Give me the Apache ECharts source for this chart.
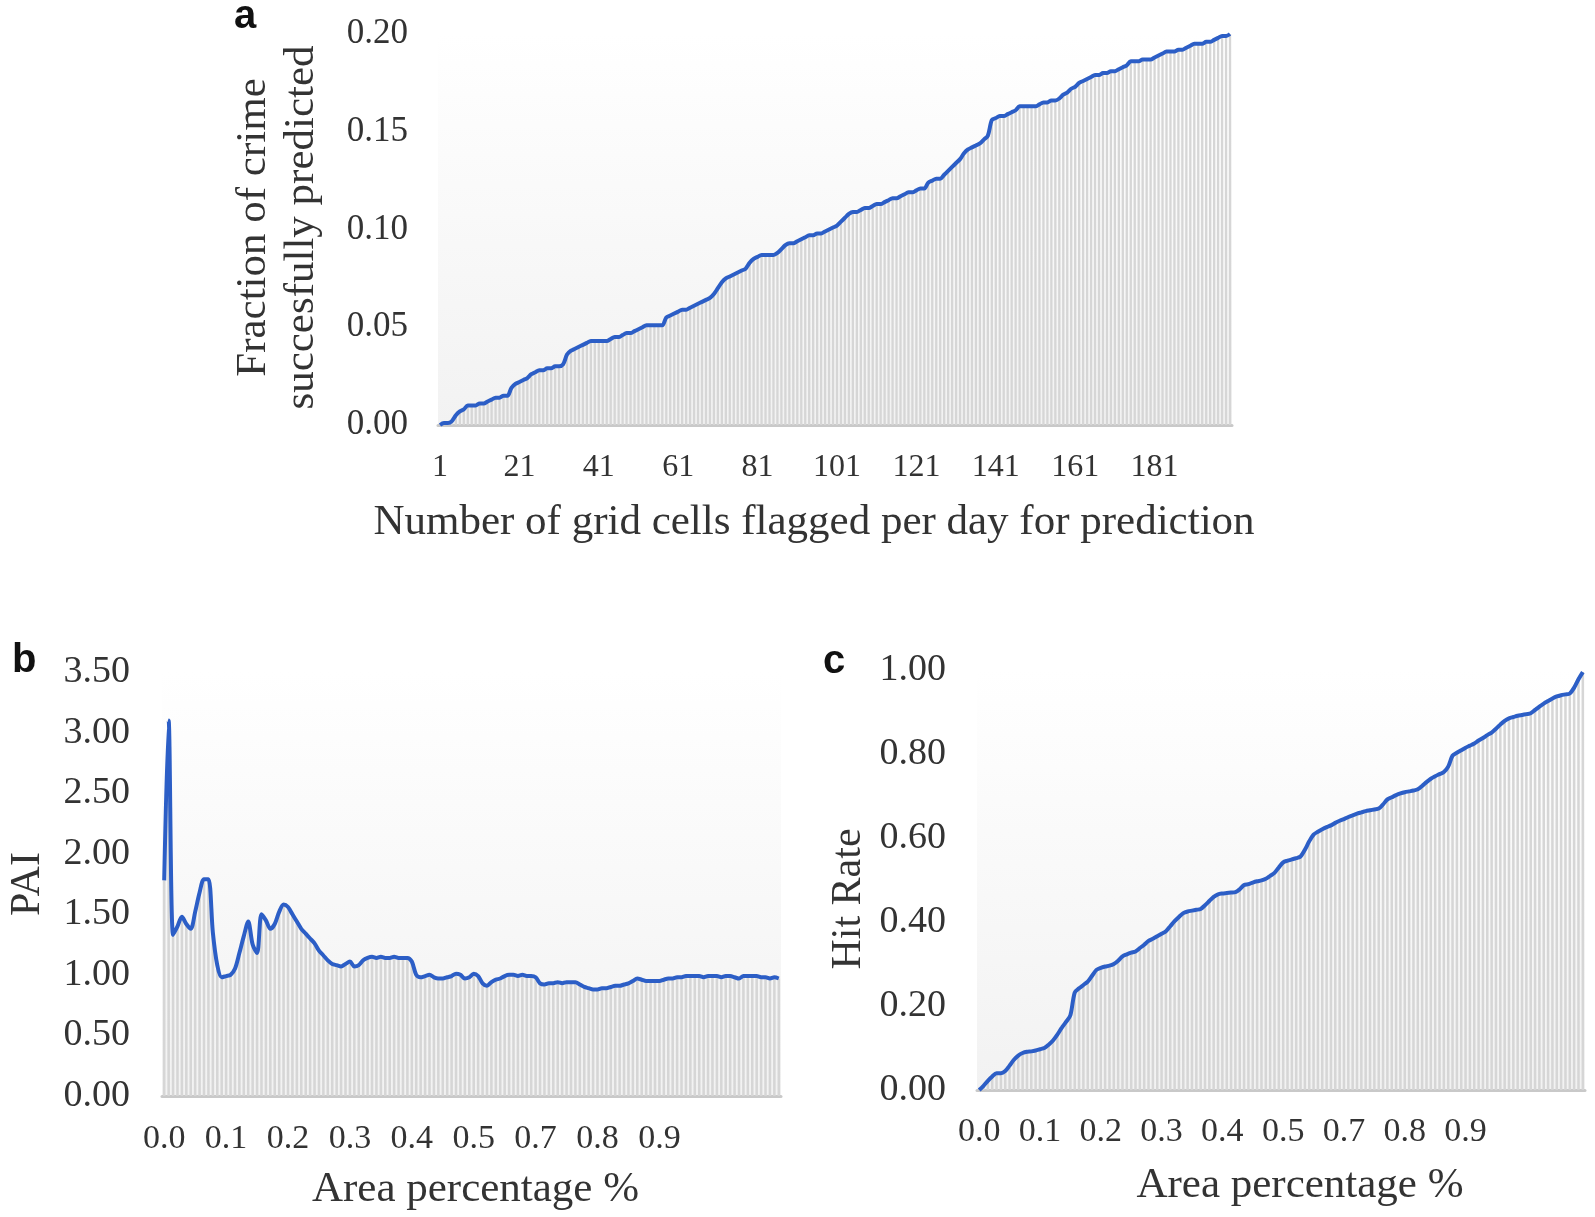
<!DOCTYPE html>
<html>
<head>
<meta charset="utf-8">
<script src="https://cdn.jsdelivr.net/npm/echarts@6/dist/echarts.min.js"></script>
<style>
html,body{margin:0;padding:0;background:#fff;}
#chart{width:1595px;height:1217px;}
</style>
</head>
<body>
<div id="chart"></div>
<script>
// ---- Panel a: fraction of crime successfully predicted vs number of flagged cells (1..200)
const cellsA = Array.from({length: 200}, (_, i) => String(i + 1));
const fractionA = [
  0.000, 0.001, 0.001, 0.002, 0.005, 0.007, 0.008, 0.010, 0.010, 0.010,
  0.011, 0.011, 0.012, 0.013, 0.014, 0.014, 0.015, 0.015, 0.019, 0.021,
  0.022, 0.023, 0.024, 0.026, 0.027, 0.028, 0.028, 0.029, 0.029, 0.030,
  0.030, 0.031, 0.036, 0.038, 0.039, 0.040, 0.041, 0.042, 0.043, 0.043,
  0.043, 0.043, 0.043, 0.044, 0.045, 0.045, 0.046, 0.047, 0.047, 0.048,
  0.049, 0.050, 0.051, 0.051, 0.051, 0.051, 0.051, 0.055, 0.056, 0.057,
  0.058, 0.059, 0.059, 0.060, 0.061, 0.062, 0.063, 0.064, 0.065, 0.067,
  0.070, 0.073, 0.075, 0.076, 0.077, 0.078, 0.079, 0.080, 0.083, 0.085,
  0.086, 0.087, 0.087, 0.087, 0.087, 0.088, 0.090, 0.092, 0.093, 0.093,
  0.094, 0.095, 0.096, 0.097, 0.097, 0.098, 0.098, 0.099, 0.100, 0.101,
  0.102, 0.104, 0.106, 0.108, 0.109, 0.109, 0.110, 0.111, 0.111, 0.112,
  0.113, 0.113, 0.114, 0.115, 0.116, 0.116, 0.117, 0.118, 0.119, 0.119,
  0.120, 0.121, 0.121, 0.124, 0.125, 0.126, 0.126, 0.128, 0.130, 0.132,
  0.134, 0.136, 0.139, 0.141, 0.142, 0.143, 0.144, 0.146, 0.148, 0.156,
  0.157, 0.158, 0.158, 0.159, 0.160, 0.161, 0.163, 0.163, 0.163, 0.163,
  0.163, 0.164, 0.165, 0.165, 0.166, 0.166, 0.167, 0.169, 0.170, 0.172,
  0.173, 0.175, 0.176, 0.177, 0.178, 0.179, 0.179, 0.180, 0.180, 0.181,
  0.181, 0.182, 0.183, 0.184, 0.186, 0.186, 0.186, 0.187, 0.187, 0.187,
  0.188, 0.189, 0.190, 0.191, 0.191, 0.191, 0.192, 0.192, 0.193, 0.194,
  0.195, 0.195, 0.195, 0.196, 0.196, 0.197, 0.198, 0.199, 0.199, 0.200
];
const ticksA = [0, 0.05, 0.10, 0.15, 0.20];

// ---- Panels b and c: shared area-percentage categories (140 cells)
const areaTickLabels = ['0.0', '0.1', '0.2', '0.3', '0.4', '0.5', '0.7', '0.8', '0.9'];
const areaCount = 140;
const areaCats = Array.from({length: areaCount}, (_, i) => String(i));

const paiB = [
  1.78, 3.10, 1.33, 1.40, 1.48, 1.42, 1.38, 1.52, 1.68, 1.79,
  1.79, 1.35, 1.08, 0.98, 0.99, 1.00, 1.05, 1.18, 1.32, 1.44,
  1.25, 1.18, 1.50, 1.45, 1.38, 1.42, 1.52, 1.58, 1.56, 1.50,
  1.44, 1.38, 1.34, 1.30, 1.26, 1.20, 1.16, 1.12, 1.09, 1.08,
  1.07, 1.09, 1.11, 1.07, 1.08, 1.12, 1.14, 1.15, 1.14, 1.15,
  1.14, 1.14, 1.15, 1.14, 1.14, 1.14, 1.11, 1.00, 0.98, 0.99,
  1.00, 0.98, 0.97, 0.97, 0.98, 0.99, 1.01, 1.00, 0.97, 0.98,
  1.01, 0.99, 0.93, 0.91, 0.94, 0.96, 0.97, 0.99, 1.00, 1.00,
  0.99, 1.00, 0.99, 0.99, 0.98, 0.93, 0.92, 0.93, 0.93, 0.94,
  0.93, 0.94, 0.94, 0.94, 0.92, 0.90, 0.89, 0.88, 0.88, 0.89,
  0.89, 0.90, 0.91, 0.91, 0.92, 0.93, 0.95, 0.97, 0.96, 0.95,
  0.95, 0.95, 0.95, 0.96, 0.97, 0.97, 0.98, 0.98, 0.99, 0.99,
  0.99, 0.99, 0.98, 0.99, 0.99, 0.99, 0.98, 0.99, 0.99, 0.98,
  0.97, 0.99, 0.99, 0.99, 0.99, 0.98, 0.98, 0.97, 0.98, 0.97
];
const ticksB = [0, 0.5, 1.0, 1.5, 2.0, 2.5, 3.0, 3.5];

const hitRateC = [
  0.000, 0.010, 0.022, 0.032, 0.040, 0.040, 0.045, 0.058, 0.072, 0.082,
  0.088, 0.091, 0.092, 0.094, 0.097, 0.100, 0.108, 0.118, 0.132, 0.148,
  0.162, 0.178, 0.232, 0.242, 0.250, 0.258, 0.272, 0.286, 0.291, 0.294,
  0.296, 0.300, 0.308, 0.318, 0.323, 0.327, 0.330, 0.338, 0.346, 0.355,
  0.360, 0.366, 0.372, 0.378, 0.390, 0.402, 0.412, 0.421, 0.425, 0.427,
  0.429, 0.431, 0.440, 0.450, 0.460, 0.466, 0.468, 0.469, 0.470, 0.471,
  0.478, 0.488, 0.490, 0.494, 0.497, 0.499, 0.503, 0.510, 0.517, 0.530,
  0.542, 0.546, 0.549, 0.552, 0.556, 0.572, 0.592, 0.608, 0.615, 0.621,
  0.626, 0.630, 0.636, 0.641, 0.645, 0.650, 0.654, 0.658, 0.661, 0.664,
  0.666, 0.668, 0.670, 0.680, 0.692, 0.697, 0.702, 0.706, 0.709, 0.711,
  0.713, 0.716, 0.724, 0.733, 0.741, 0.747, 0.752, 0.757, 0.770, 0.796,
  0.803, 0.809, 0.815, 0.820, 0.825, 0.832, 0.838, 0.845, 0.851, 0.860,
  0.870, 0.879, 0.885, 0.888, 0.891, 0.893, 0.895, 0.897, 0.905, 0.913,
  0.920, 0.926, 0.932, 0.937, 0.940, 0.942, 0.944, 0.958, 0.978, 0.995
];
const ticksC = [0, 0.2, 0.4, 0.6, 0.8, 1.0];

// ---- styling
const SERIF = '"Liberation Serif", "Times New Roman", serif';
const SANS = '"Liberation Sans", Arial, sans-serif';
const TXT = '#333333';
const LINE = '#2c5ec6';
const BAR = '#d6d6d6';

const chart = echarts.init(document.getElementById('chart'), null, {renderer: 'canvas'});

function wallGradient() {
  return new echarts.graphic.LinearGradient(0, 0, 0, 1, [
    {offset: 0, color: '#ffffff'},
    {offset: 1, color: '#f2f2f2'}
  ]);
}

function xAxisCfg(gridIndex, data, labelInterval, formatter, fontSize, margin, name, nameGap, namePad) {
  return {
    type: 'category', gridIndex: gridIndex, data: data,
    boundaryGap: true,
    axisLine: {show: true, lineStyle: {color: '#c9c9c9', width: 3}},
    axisTick: {show: false},
    splitLine: {show: false},
    axisLabel: {
      interval: labelInterval, margin: margin,
      fontFamily: SERIF, fontSize: fontSize, color: TXT,
      formatter: formatter
    },
    name: name, nameLocation: 'middle', nameGap: nameGap,
    nameTextStyle: {fontFamily: SERIF, fontSize: 43, color: TXT, padding: namePad}
  };
}

function yAxisCfg(gridIndex, ticks, fontSize, margin, name, nameFont, nameGap, namePad, lineHeight) {
  const step = ticks[1] - ticks[0];
  return {
    type: 'value', gridIndex: gridIndex,
    min: ticks[0], max: ticks[ticks.length - 1], interval: step,
    axisLine: {show: false}, axisTick: {show: false},
    splitLine: {show: false},
    axisLabel: {
      margin: margin, fontFamily: SERIF, fontSize: fontSize, color: TXT,
      formatter: v => v.toFixed(2)
    },
    name: name, nameLocation: 'middle', nameGap: nameGap, nameRotate: 90,
    nameTextStyle: {fontFamily: SERIF, fontSize: nameFont, color: TXT, padding: namePad, lineHeight: lineHeight}
  };
}

function pair(idx, data) {
  return [
    {
      type: 'bar', xAxisIndex: idx, yAxisIndex: idx, data: data,
      barCategoryGap: '42%', itemStyle: {color: BAR}, silent: true, z: 1
    },
    {
      type: 'line', xAxisIndex: idx, yAxisIndex: idx, data: data,
      smooth: 0.3, showSymbol: false, symbol: 'none',
      lineStyle: {color: LINE, width: 4}, silent: true, z: 3
    }
  ];
}

const areaFormatter = (v, idx) => (idx % 14 === 0 && areaTickLabels[idx / 14] !== undefined) ? areaTickLabels[idx / 14] : '';

chart.setOption({
  animation: false,
  backgroundColor: '#ffffff',
  grid: [
    {left: 438, top: 34, width: 794, height: 391, show: true, backgroundColor: wallGradient(), borderWidth: 0},
    {left: 162, top: 672, width: 619, height: 424, show: true, backgroundColor: wallGradient(), borderWidth: 0},
    {left: 977, top: 670, width: 608, height: 420, show: true, backgroundColor: wallGradient(), borderWidth: 0}
  ],
  xAxis: [
    xAxisCfg(0, cellsA, 19, null, 32, 27, 'Number of grid cells flagged per day for prediction', 76, [0, 42, 0, 0]),
    xAxisCfg(1, areaCats, 13, areaFormatter, 34, 26, 'Area percentage %', 72, [0, 0, 0, 8]),
    xAxisCfg(2, areaCats, 13, areaFormatter, 34, 25, 'Area percentage %', 74, [0, 0, 0, 38])
  ],
  yAxis: [
    yAxisCfg(0, ticksA, 35, 30, 'Fraction of crime\nsuccesfully predicted', 43, 112, [0, 0, 0, 4], 48),
    yAxisCfg(1, ticksB, 38, 32, 'PAI', 42, 112, [0, 0, 0, 0], 44),
    yAxisCfg(2, ticksC, 38, 31, 'Hit Rate', 42, 106, [0, 38, 0, 0], 44)
  ],
  series: [].concat(pair(0, fractionA), pair(1, paiB), pair(2, hitRateC)),
  graphic: [
    {type: 'text', left: 234, top: -3, style: {text: 'a', fontFamily: SANS, fontWeight: 'bold', fontSize: 40, fill: '#111'}},
    {type: 'text', left: 12, top: 641, style: {text: 'b', fontFamily: SANS, fontWeight: 'bold', fontSize: 40, fill: '#111'}},
    {type: 'text', left: 823, top: 642, style: {text: 'c', fontFamily: SANS, fontWeight: 'bold', fontSize: 40, fill: '#111'}}
  ]
});
</script>
</body>
</html>
